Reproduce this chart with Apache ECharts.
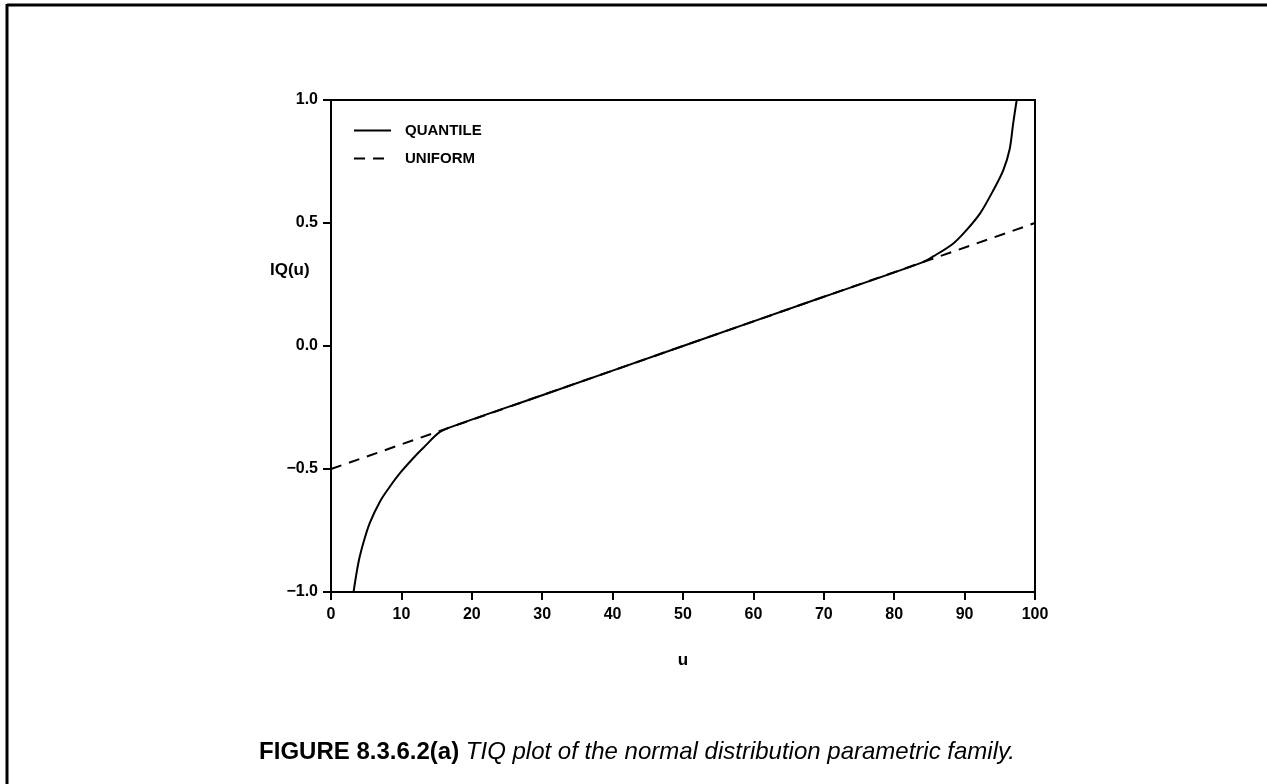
<!DOCTYPE html>
<html>
<head>
<meta charset="utf-8">
<script src="https://cdn.jsdelivr.net/npm/echarts@6/dist/echarts.min.js"></script>
<style>
html,body{margin:0;padding:0;background:#fff;}
#chart{width:1267px;height:784px;}
</style>
</head>
<body>
<div id="chart"></div>
<script>
// Data
const xTicks = [0, 10, 20, 30, 40, 50, 60, 70, 80, 90, 100];
const yTicks = [-1.0, -0.5, 0.0, 0.5, 1.0];
const quantileU = [3.2, 3.9, 4.6, 5.5, 7.0, 8.4, 10.0, 12.2, 13.6, 15.2, 17, 30, 50, 70, 84, 85.6, 88.4, 90.3, 92.2, 94.1, 95.5, 96.4, 96.9, 97.4];
const quantileIQ = [-1.0, -0.88, -0.80, -0.72, -0.63, -0.57, -0.51, -0.44, -0.40, -0.355, -0.33, -0.20, 0.0, 0.20, 0.34, 0.365, 0.417, 0.472, 0.539, 0.634, 0.715, 0.80, 0.905, 1.0];
const uniformU = [0, 100];
const uniformIQ = [-0.5, 0.5];
const seriesNames = ['QUANTILE', 'UNIFORM'];
const xName = 'u';
const yName = 'IQ(u)';
const captionBold = 'FIGURE 8.3.6.2(a)';
const captionItalic = 'TIQ plot of the normal distribution parametric family.';

const pair = (xs, ys) => xs.map((x, i) => [x, ys[i]]);
const axisFont = {fontFamily: 'Liberation Sans', fontWeight: 'bold', fontSize: 16, color: '#000'};

const chart = echarts.init(document.getElementById('chart'), null, {renderer: 'canvas'});
chart.setOption({
  backgroundColor: '#fff',
  animation: false,
  grid: {left: 331, right: 232, top: 100, bottom: 192, show: true, borderColor: '#000', borderWidth: 2, backgroundColor: 'transparent'},
  legend: {
    orient: 'vertical', left: 348, top: 118, itemWidth: 37, itemHeight: 10, itemGap: 13,
    data: seriesNames,
    itemStyle: {opacity: 0},
    textStyle: {fontFamily: 'Liberation Sans', fontWeight: 'bold', fontSize: 15, color: '#000', padding: [0, 0, 0, 9]}
  },
  xAxis: {
    type: 'value', min: xTicks[0], max: xTicks[xTicks.length - 1], interval: 10,
    name: xName, nameLocation: 'middle', nameGap: 60,
    nameTextStyle: {fontFamily: 'Liberation Sans', fontWeight: 'bold', fontSize: 17, color: '#000'},
    axisLine: {onZero: false, lineStyle: {color: '#000', width: 2}},
    axisTick: {inside: false, length: 8, lineStyle: {color: '#000', width: 2}},
    axisLabel: Object.assign({margin: 15}, axisFont),
    splitLine: {show: false}
  },
  yAxis: {
    type: 'value', min: yTicks[0], max: yTicks[yTicks.length - 1], interval: 0.5,
    axisLine: {onZero: false, lineStyle: {color: '#000', width: 2}},
    axisTick: {inside: false, length: 8, lineStyle: {color: '#000', width: 2}},
    axisLabel: Object.assign({margin: 13, formatter: v => (v < 0 ? '\u2212' + Math.abs(v).toFixed(1) : v.toFixed(1))}, axisFont),
    splitLine: {show: false}
  },
  series: [
    {
      name: seriesNames[0], type: 'line', data: pair(quantileU, quantileIQ),
      symbol: 'none', smooth: 0.3, z: 3,
      lineStyle: {color: '#000', width: 2, type: 'solid'},
      itemStyle: {color: '#000'}
    },
    {
      name: seriesNames[1], type: 'line', data: pair(uniformU, uniformIQ),
      symbol: 'none', z: 2,
      lineStyle: {color: '#000', width: 2, type: [11, 8]},
      itemStyle: {color: '#000'}
    }
  ],
  graphic: [
    {type: 'line', shape: {x1: 7, y1: 5, x2: 1267, y2: 5}, style: {stroke: '#000', lineWidth: 3}},
    {type: 'line', shape: {x1: 7, y1: 4, x2: 7, y2: 784}, style: {stroke: '#000', lineWidth: 3}},
    {type: 'text', left: 270, top: 262, style: {text: yName, font: 'bold 17px "Liberation Sans"', fill: '#000'}},
    {
      type: 'text', x: 637, y: 752,
      style: {
        text: '{b|' + captionBold + '}  {i|' + captionItalic + '}',
        align: 'center', verticalAlign: 'middle',
        rich: {
          b: {font: 'bold 24px "Liberation Sans"', fill: '#000'},
          i: {font: 'italic 24px "Liberation Sans"', fill: '#000'}
        }
      }
    }
  ]
});
</script>
</body>
</html>
